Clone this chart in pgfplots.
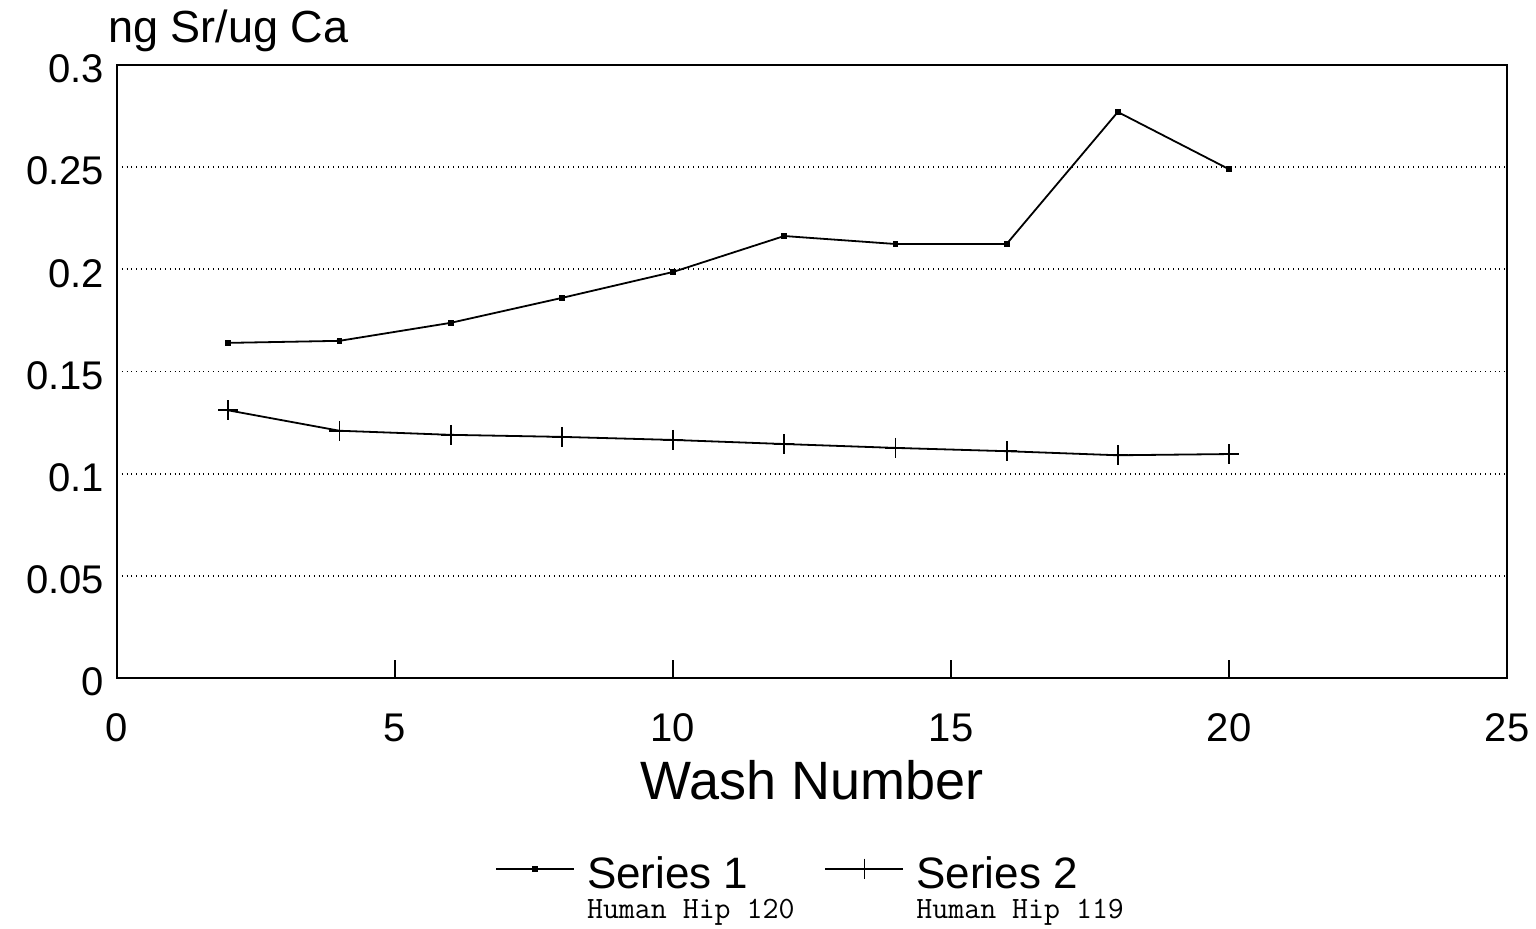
\documentclass[border=0pt]{standalone}
\usepackage{fontspec}
\setmainfont{Liberation Sans}
\usepackage{pgfplots}
\pgfplotsset{compat=1.18}
\begin{document}
\begin{tikzpicture}
\path[use as bounding box] (-58.5pt,-125.5pt) rectangle (709.5pt,339pt);
\begin{axis}[
  at={(0pt,0pt)}, anchor=south west,
  scale only axis, clip=false,
  width=695pt, height=306.5pt,
  xmin=0, xmax=25, ymin=0, ymax=0.3,
  axis line style={line width=0.9pt},
  xtick={0,5,10,15,20,25},
  xtick pos=bottom, tick align=inside,
  major tick length=9pt,
  xtick style={black, line width=0.9pt},
  ytick={0,0.05,0.1,0.15,0.2,0.25,0.3},
  yticklabels={0,0.05,0.1,0.15,0.2,0.25,0.3},
  ytick style={draw=none},
  ymajorgrids,
  grid style={dotted, line width=0.9pt, black},
  /pgf/number format/assume math mode=true,
  tick label style={font=\fontsize{20}{20}\selectfont},
  xticklabel style={anchor=base, yshift=-32pt},
  yticklabel style={xshift=-3pt, yshift=-2pt},
  xlabel={Wash Number},
  xlabel style={at={(axis description cs:0.5,0)}, anchor=base, yshift=-61pt, font=\fontsize{27}{27}\selectfont},
  legend columns=2,
  legend style={draw=none, at={(0.4997,-0.277)}, anchor=north,
    font=\fontsize{22}{22}\selectfont,
    /tikz/every odd column/.append style={column sep=4pt},
    /tikz/every even column/.append style={column sep=13pt}},
  legend image code/.code={
    \draw[mark repeat=2,mark phase=2,yshift=2.5pt,#1] plot coordinates {(0pt,0pt) (19.5pt,0pt) (39pt,0pt)};
  },
]
\addplot[black, line width=0.9pt, mark=square*, mark size=1pt] coordinates {
 (2,0.164) (4,0.165) (6,0.1738) (8,0.186) (10,0.1987) (12,0.2163) (14,0.2124) (16,0.2124) (18,0.277) (20,0.249)
};
\addlegendentry{\begin{tabular}[t]{@{}l@{}}Series 1\\[-7pt]{\ttfamily\fontsize{15.5}{15.5}\selectfont Human Hip 120}\end{tabular}}
\addplot[black, line width=0.9pt, mark=+, mark size=5pt] coordinates {
 (2,0.131) (4,0.121) (6,0.119) (8,0.118) (10,0.1165) (12,0.1145) (14,0.1126) (16,0.111) (18,0.109) (20,0.1096)
};
\addlegendentry{\begin{tabular}[t]{@{}l@{}}Series 2\\[-7pt]{\ttfamily\fontsize{15.5}{15.5}\selectfont Human Hip 119}\end{tabular}}
\node[anchor=base west, font=\fontsize{22.5}{22.5}\selectfont, inner sep=0pt] at ([xshift=-4.5pt,yshift=11pt]rel axis cs:0,1) {ng Sr/ug Ca};
\end{axis}
\end{tikzpicture}
\end{document}
